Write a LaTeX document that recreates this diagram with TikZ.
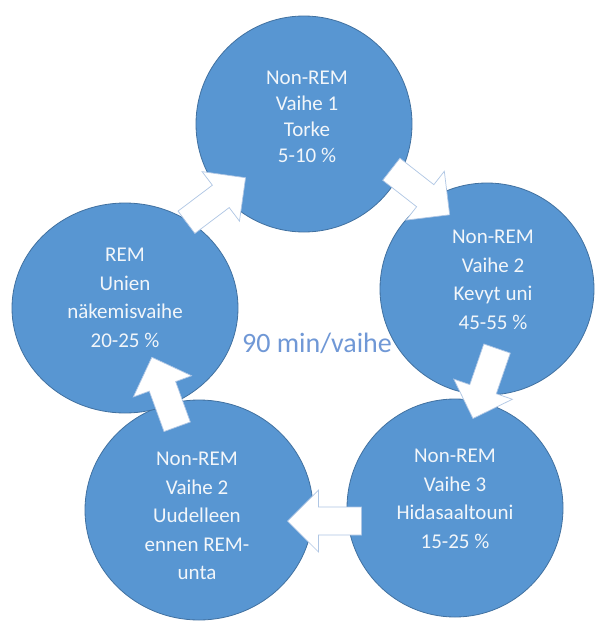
\documentclass[tikz,border=0pt]{standalone}
\usepackage{fontspec}
\setmainfont{Carlito}
\usetikzlibrary{shapes.geometric}
\definecolor{cfill}{RGB}{88,150,210}
\definecolor{cline}{RGB}{65,113,160}
\definecolor{ctext}{RGB}{242,246,250}
\definecolor{ccenter}{RGB}{112,152,214}
\definecolor{aline}{RGB}{175,198,228}
\begin{document}
\begin{tikzpicture}[x=1pt,y=-1pt,
  stage/.style={ellipse, draw=cline, line width=0.8pt, fill=cfill, inner sep=0pt},
  stagetext/.style={text=ctext, align=center, font=\fontsize{21}{#1}\selectfont},
  stagetext/.default=28.5,
  arrowshape/.style={fill=white, draw=aline, line width=0.7pt, line join=miter},
  pics/cyclearrow/.style={code={
    \draw[arrowshape] (-37,-14) -- (6,-14) -- (6,-31) -- (37,0) -- (6,31) -- (6,14) -- (-37,14) -- cycle;}}]
\useasboundingbox (0,0) rectangle (596,621);
\fill[white] (0,0) rectangle (596,621);
% centre text (behind circles)
\node[text=ccenter, font=\fontsize{28}{30}\selectfont, anchor=base, inner sep=0pt] (mid) at (317,352) {90 min/vaihe};
% circles
\node[stage, minimum width=216pt, minimum height=216pt] (c1) at (304,124) {};
\node[stage, minimum width=214pt, minimum height=212pt] (c2) at (487,289) {};
\node[stage, minimum width=216pt, minimum height=218pt] (c3) at (455,508) {};
\node[stage, minimum width=228pt, minimum height=220pt] (c4) at (199,510) {};
\node[stage, minimum width=226pt, minimum height=210pt] (c5) at (125,308) {};
% texts
\node[stagetext=26] (t1) at (307,116.5) {Non-REM\\Vaihe 1\\Torke\\5-10 \%};
\node[stagetext] (t2) at (493,280) {Non-REM\\Vaihe 2\\Kevyt uni\\45-55 \%};
\node[stagetext] (t3) at (455,499) {Non-REM\\Vaihe 3\\Hidasaaltouni\\15-25 \%};
\node[stagetext] (t4) at (197,516) {Non-REM\\Vaihe 2\\Uudelleen\\ennen REM-\\unta};
\node[stagetext] (t5) at (125,298) {REM\\Unien\\näkemisvaihe\\20-25 \%};
% arrows
\coordinate (a1) at (216,200);
\coordinate (a2) at (420.5,192);
\coordinate (a3) at (485,383.5);
\coordinate (a4) at (324.5,521);
\coordinate (a5) at (164.5,392);
\pic[rotate=37] at (a1) {cyclearrow};
\pic[rotate=-38] at (a2) {cyclearrow};
\pic[rotate=-109] at (a3) {cyclearrow};
\pic[rotate=180] at (a4) {cyclearrow};
\pic[rotate=110] at (a5) {cyclearrow};
\end{tikzpicture}
\end{document}
